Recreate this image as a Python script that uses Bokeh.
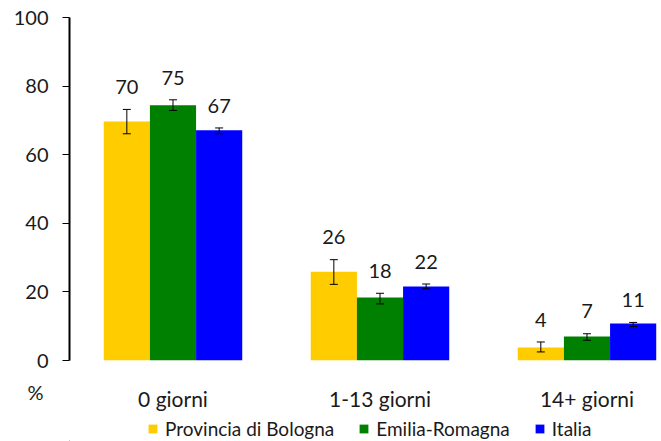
from bokeh.plotting import figure
from bokeh.layouts import column
from bokeh.models import (ColumnDataSource, Range1d, FixedTicker, Whisker, TeeHead,
                          Legend, LegendItem, LabelSet)
from bokeh.core.properties import value
from bokeh.embed import file_html
from bokeh.resources import INLINE

categories = ["0 giorni", "1-13 giorni", "14+ giorni"]
series = ["Provincia di Bologna", "Emilia-Romagna", "Italia"]
colors = ["#FFCC00", "#008000", "#0000FF"]
unit_label = "%"

bologna = [69.7, 25.9, 3.8]
bologna_lo = [66.1, 22.2, 2.5]
bologna_hi = [73.2, 29.4, 5.4]
bologna_lbl = ["70", "26", "4"]

emilia = [74.4, 18.4, 7.0]
emilia_lo = [72.9, 16.5, 5.9]
emilia_hi = [76.0, 19.6, 7.8]
emilia_lbl = ["75", "18", "7"]

italia = [67.1, 21.6, 10.8]
italia_lo = [66.1, 20.9, 9.9]
italia_hi = [67.8, 22.3, 11.1]
italia_lbl = ["67", "22", "11"]

y_ticks = [0, 20, 40, 60, 80, 100]

FONT = "Lato"
TXT = "#1a1a1a"
bar_w = 0.223
offsets = [-bar_w, 0.0, bar_w]

W = 661
LEFT = 69
X_END = 2.86

# ---------------- main chart ----------------
p = figure(width=W, height=372, output_backend="svg", toolbar_location=None,
           x_range=Range1d(0, X_END), y_range=Range1d(0, 100), x_axis_location=None,
           min_border_left=LEFT, min_border_top=17, min_border_right=0, min_border_bottom=12)
p.outline_line_color = None
p.xgrid.visible = False
p.ygrid.visible = False

data = [(bologna, bologna_lo, bologna_hi, bologna_lbl),
        (emilia, emilia_lo, emilia_hi, emilia_lbl),
        (italia, italia_lo, italia_hi, italia_lbl)]

for k, (vals, lo, hi, lbl) in enumerate(data):
    xs = [i + 0.5 + offsets[k] for i in range(len(categories))]
    src = ColumnDataSource(dict(x=xs, top=vals, lo=lo, hi=hi, lbl=lbl,
                                ly=[h + 6.5 for h in hi]))
    p.vbar(x="x", top="top", width=bar_w, source=src, fill_color=colors[k],
           line_color=None)
    w = Whisker(base="x", lower="lo", upper="hi", source=src, line_color="black",
                line_width=1, level="overlay",
                upper_head=TeeHead(size=8, line_color="black", line_width=1),
                lower_head=TeeHead(size=8, line_color="black", line_width=1))
    p.add_layout(w)
    ls = LabelSet(x="x", y="ly", text="lbl", source=src, text_align="center",
                  text_baseline="middle", text_font=value(FONT),
                  text_font_size="20px", text_color=TXT)
    p.add_layout(ls)

p.yaxis.ticker = FixedTicker(ticks=y_ticks)
p.yaxis.axis_line_width = 2
p.yaxis.axis_line_color = "black"
p.yaxis.major_tick_in = 0
p.yaxis.major_tick_out = 7
p.yaxis.major_tick_line_color = "black"
p.yaxis.minor_tick_line_color = None
p.yaxis.major_label_standoff = 14
p.yaxis.major_label_text_font = FONT
p.yaxis.major_label_text_font_size = "20px"
p.yaxis.major_label_text_color = TXT

# ---------------- category labels, unit and legend strip ----------------
H2 = 69
q = figure(width=W, height=H2, output_backend="svg", toolbar_location=None,
           x_range=p.x_range, y_range=Range1d(0, H2), x_axis_location=None,
           min_border_left=LEFT, min_border_top=0, min_border_right=0, min_border_bottom=0)
q.outline_line_color = None
q.xgrid.visible = False
q.ygrid.visible = False

# unit label as the strip's own left axis
q.yaxis.ticker = FixedTicker(ticks=[50])
q.yaxis.major_label_overrides = {50: unit_label}
q.yaxis.axis_line_color = None
q.yaxis.major_tick_line_color = None
q.yaxis.minor_tick_line_color = None
q.yaxis.major_tick_out = 0
q.yaxis.major_tick_in = 0
q.yaxis.major_label_standoff = 26
q.yaxis.major_label_text_font = FONT
q.yaxis.major_label_text_font_size = "20px"
q.yaxis.major_label_text_color = TXT

cat_src = ColumnDataSource(dict(x=[i + 0.5 for i in range(len(categories))],
                                y=[43] * len(categories), t=categories))
q.text(x="x", y="y", text="t", source=cat_src, text_align="center",
       text_baseline="middle", text_font=value(FONT), text_font_size="21px",
       text_color=TXT)

items = []
for k in range(len(series)):
    r = q.vbar(x=[-10], top=[1], width=bar_w, fill_color=colors[k], line_color=None)
    items.append(LegendItem(label=series[k], renderers=[r]))

legend = Legend(items=items, orientation="horizontal", location=(78, 1),
                label_text_font=FONT, label_text_font_size="19px",
                label_text_color=TXT,
                glyph_width=11, glyph_height=11, label_standoff=7, spacing=24,
                padding=0, margin=0, border_line_color=None,
                label_height=22, background_fill_alpha=0)
q.add_layout(legend)

layout = column(p, q, spacing=0)
open("out.html", "w").write(file_html(layout, INLINE))
